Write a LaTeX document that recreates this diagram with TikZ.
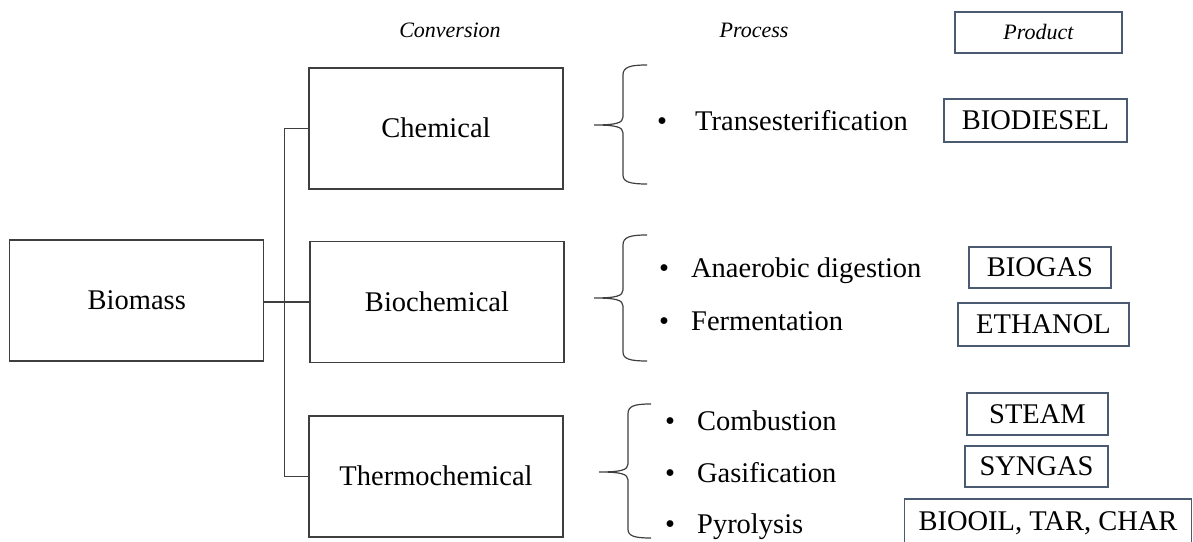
\documentclass[tikz,border=0pt]{standalone}
\usepackage{fontspec}
\setmainfont{Liberation Serif}
\definecolor{boxline}{HTML}{3F3F3F}
\definecolor{prodline}{HTML}{4A5A70}
\begin{document}
\begin{tikzpicture}[x=1pt,y=1pt,
  mainbox/.style={draw=boxline, line width=1.3pt, minimum width=254pt, minimum height=121pt, inner sep=0pt,
    font=\fontsize{28.5}{34}\selectfont, text height=18.8pt, text depth=0pt},
  prodbox/.style={draw=prodline, line width=1.1pt, inner sep=0pt,
    font=\fontsize{28.5}{34}\selectfont, text height=18.8pt, text depth=0pt},
  proc/.style={anchor=west, inner sep=0pt, font=\fontsize{28.5}{34}\selectfont, text height=18.8pt, text depth=0pt},
  hdr/.style={inner sep=0pt, font=\fontsize{22}{26}\selectfont\itshape, text height=14.5pt, text depth=0pt},
  link/.style={draw=boxline, line width=1.3pt},
  bracepath/.style={draw=boxline, line width=1.2pt}]
\useasboundingbox (0,0) rectangle (1193,541);
\clip (0,0) rectangle (1193,541);

% headers
\node[hdr] (hconv) at (450,511) {Conversion};
\node[hdr] (hproc) at (754,511) {Process};
\node[prodbox, font=\fontsize{22}{26}\selectfont\itshape, text height=14.5pt, minimum width=167pt, minimum height=41pt] (hprod) at (1038.5,508.5) {Product};

% main boxes
\node[mainbox] (biomass) at (136.8,240.5) {Biomass};
\node[mainbox] (chem) at (436,412.5) {Chemical};
\node[mainbox] (biochem) at (437,239) {Biochemical};
\node[mainbox] (thermo) at (436,64.5) {Thermochemical};

% connectors
\draw[link] (biochem.west) -- (biochem.west -| biomass.east);
\draw[link] (chem.west) -- ++(-24,0) |- (thermo.west);

% braces
\draw[bracepath] (647,476) .. controls (630,476) and (623,474) .. (623,466) -- (623,424)
  .. controls (623,418) and (616,416) .. (594,416)
  .. controls (616,416) and (623,414) .. (623,408) -- (623,366)
  .. controls (623,359) and (630,357) .. (647,357);
\draw[bracepath] (647,306) .. controls (630,306) and (623,304) .. (623,296) -- (623,251)
  .. controls (623,245) and (616,243) .. (594,243)
  .. controls (616,243) and (623,241) .. (623,235) -- (623,189)
  .. controls (623,182) and (630,180) .. (647,180);
\draw[bracepath] (651,137) .. controls (634,137) and (628,135) .. (628,127) -- (628,77)
  .. controls (628,71) and (621,69) .. (599,69)
  .. controls (621,69) and (628,67) .. (628,61) -- (628,12)
  .. controls (628,5) and (634,3) .. (651,3);

% processes
\node[proc] (p1) at (657,420) {\textbullet\hspace{28pt}Transesterification};
\node[proc] (p2) at (659,273) {\textbullet\hspace{22pt}Anaerobic digestion};
\node[proc] (p3) at (659,220) {\textbullet\hspace{22pt}Fermentation};
\node[proc] (p4) at (665,120) {\textbullet\hspace{22pt}Combustion};
\node[proc] (p5) at (665,68) {\textbullet\hspace{22pt}Gasification};
\node[proc] (p6) at (665,17) {\textbullet\hspace{22pt}Pyrolysis};

% products
\node[prodbox, minimum width=183pt, minimum height=43pt] (biodiesel) at (1035.5,420.5) {BIODIESEL};
\node[prodbox, minimum width=142pt, minimum height=41pt] (biogas) at (1040,273.5) {BIOGAS};
\node[prodbox, minimum width=171pt, minimum height=43pt] (ethanol) at (1043.5,216.5) {ETHANOL};
\node[prodbox, minimum width=141pt, minimum height=42pt] (steam) at (1037.5,127) {STEAM};
\node[prodbox, minimum width=143pt, minimum height=41pt] (syngas) at (1036.5,74.5) {SYNGAS};
\node[prodbox, minimum width=287pt, minimum height=45pt] (biooil) at (1048,19.5) {BIOOIL, TAR, CHAR};
\end{tikzpicture}
\end{document}
